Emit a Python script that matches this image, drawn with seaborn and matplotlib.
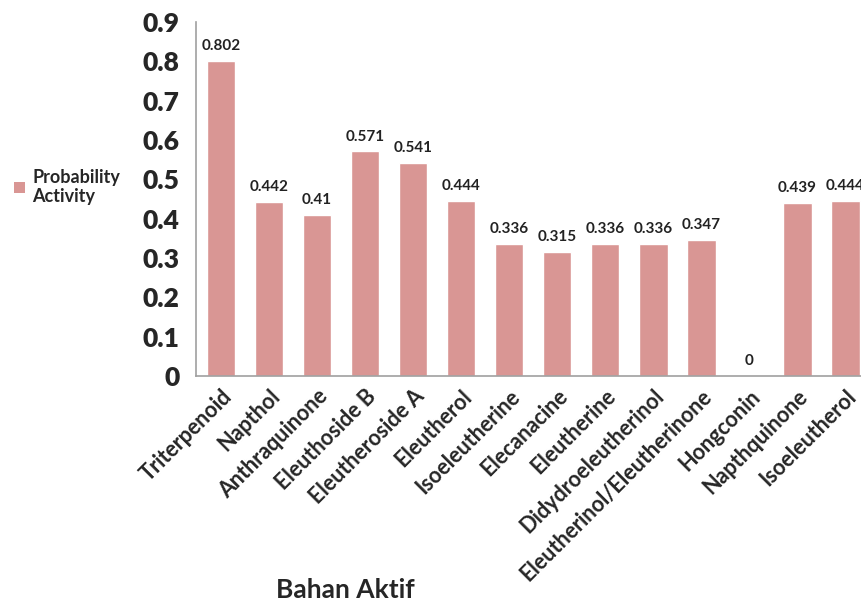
import matplotlib.pyplot as plt
import seaborn as sns
import pandas as pd
from matplotlib.patches import Patch

# data
compounds = ['Triterpenoid', 'Napthol', 'Anthraquinone', 'Eleuthoside B', 'Eleutheroside A',
             'Eleutherol', 'Isoeleutherine', 'Elecanacine', 'Eleutherine',
             'Didydroeleutherinol', 'Eleutherinol/Eleutherinone', 'Hongconin',
             'Napthquinone', 'Isoeleutherol']
probability = [0.802, 0.442, 0.41, 0.571, 0.541, 0.444, 0.336, 0.315, 0.336,
               0.336, 0.347, 0, 0.439, 0.444]
value_labels = ['0.802', '0.442', '0.41', '0.571', '0.541', '0.444', '0.336', '0.315',
                '0.336', '0.336', '0.347', '0', '0.439', '0.444']

df = pd.DataFrame({'compound': compounds, 'prob': probability})

sns.set_theme(style='white')
plt.rcParams['font.family'] = ['Lato', 'DejaVu Sans']
plt.rcParams['font.weight'] = 'bold'

bar_color = '#d99694'

fig = plt.figure(figsize=(8.61, 6.05), dpi=100)
ax = fig.add_axes([196 / 861, 1 - 376 / 605, 1 - 196 / 861, (376 - 22) / 605])

sns.barplot(data=df, x='compound', y='prob', color=bar_color, width=0.6,
            saturation=1, ax=ax)

ax.set_ylim(0, 0.9)
ax.set_xlim(-0.52, 13.33)
ax.set_yticks([i / 10 for i in range(10)])
ax.set_yticklabels(['0'] + [f'{i / 10:.1f}' for i in range(1, 10)],
                   fontsize=19, fontweight='heavy')
ax.tick_params(axis='y', length=0, pad=12)
ax.tick_params(axis='x', length=0, pad=7)
plt.setp(ax.get_xticklabels(), rotation=45, ha='right', rotation_mode='anchor',
         fontsize=15.5, fontweight='bold')

for i, (v, lab) in enumerate(zip(probability, value_labels)):
    ax.text(i, v + 0.02, lab, ha='center', va='bottom', fontsize=11,
            fontweight='bold', color='#222222')

for side in ['top', 'right']:
    ax.spines[side].set_visible(False)
for side in ['left', 'bottom']:
    ax.spines[side].set_color('#a0a0a0')
    ax.spines[side].set_linewidth(1.2)

ax.set_ylabel('')
ax.set_xlabel('Bahan Aktif', fontsize=19, fontweight='bold')
ax.xaxis.set_label_coords((345 - 196) / 665, -0.57)

handle = Patch(facecolor=bar_color, edgecolor='none')
fig.legend([handle], ['Probability\nActivity'], loc='center left',
           bbox_to_anchor=(0.0, 1 - 187 / 605), frameon=False,
           prop={'size': 13, 'weight': 'bold'}, handlelength=0.6,
           handleheight=0.6, handletextpad=0.4, borderpad=0.3)

plt.savefig('out.png', dpi=100)
